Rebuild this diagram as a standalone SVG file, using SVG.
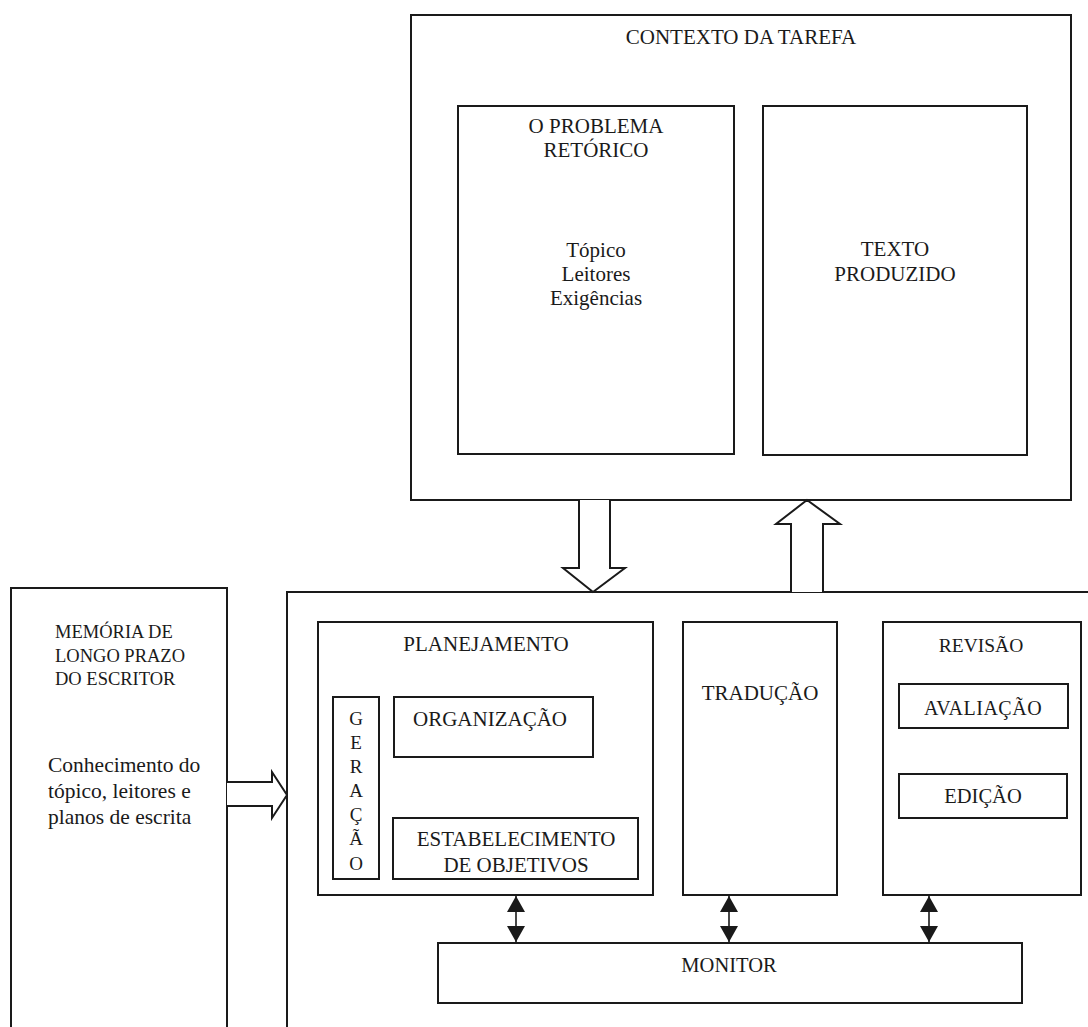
<svg xmlns="http://www.w3.org/2000/svg" width="1088" height="1027" viewBox="0 0 1088 1027">
  <style>
    .box { fill: none; stroke: #1a1a1a; stroke-width: 2; }
    .t { font-family: "Liberation Serif", "Times New Roman", serif; fill: #1a1a1a; text-anchor: middle; }
    .tl { font-family: "Liberation Serif", "Times New Roman", serif; fill: #1a1a1a; text-anchor: start; }
    .big { fill: #fff; stroke: #1a1a1a; stroke-width: 2; stroke-linejoin: miter; }
    .dbl { stroke: #1a1a1a; stroke-width: 1.6; fill: none; }
  </style>
  <defs>
    <marker id="ah" viewBox="0 0 16 18" refX="16" refY="9" markerWidth="16" markerHeight="18" markerUnits="userSpaceOnUse" orient="auto-start-reverse">
      <path d="M0,0 L16,9 L0,18 Z" fill="#1a1a1a"/>
    </marker>
  </defs>
  <rect width="1088" height="1027" fill="#fff"/>

  <g id="contexto-tarefa">
    <rect class="box" x="411" y="15" width="660" height="485"/>
    <text class="t" x="741" y="44" font-size="21">CONTEXTO DA TAREFA</text>
  </g>
  <g id="problema-retorico">
    <rect class="box" x="458" y="106" width="276" height="348"/>
    <text class="t" x="596" y="133" font-size="21">O PROBLEMA</text>
    <text class="t" x="596" y="157" font-size="21">RETÓRICO</text>
    <text class="t" x="596" y="257" font-size="21">Tópico</text>
    <text class="t" x="596" y="281" font-size="21">Leitores</text>
    <text class="t" x="596" y="305" font-size="21">Exigências</text>
  </g>
  <g id="texto-produzido">
    <rect class="box" x="763" y="106" width="264" height="349"/>
    <text class="t" x="895" y="256" font-size="21">TEXTO</text>
    <text class="t" x="895" y="281" font-size="21">PRODUZIDO</text>
  </g>

  <g id="processos">
    <rect class="box" x="287" y="592" width="830" height="460"/>
  </g>

  <g id="memoria">
    <rect class="box" x="11" y="588" width="216" height="460"/>
    <text class="tl" x="55" y="638" font-size="18.5">MEMÓRIA DE</text>
    <text class="tl" x="55" y="662" font-size="18.5">LONGO PRAZO</text>
    <text class="tl" x="55" y="685" font-size="18.5">DO ESCRITOR</text>
    <text class="tl" x="48" y="772" font-size="21.5">Conhecimento do</text>
    <text class="tl" x="48" y="798" font-size="21.5">tópico, leitores e</text>
    <text class="tl" x="48" y="824" font-size="21.5">planos de escrita</text>
  </g>

  <g id="planejamento">
    <rect class="box" x="318" y="622" width="335" height="273"/>
    <text class="t" x="486" y="651" font-size="21">PLANEJAMENTO</text>
  </g>
  <g id="geracao">
    <rect class="box" x="333" y="697" width="46" height="182"/>
    <text class="t" x="356" y="725" font-size="19">G</text>
    <text class="t" x="356" y="749" font-size="19">E</text>
    <text class="t" x="356" y="773" font-size="19">R</text>
    <text class="t" x="356" y="797" font-size="19">A</text>
    <text class="t" x="356" y="821" font-size="19">Ç</text>
    <text class="t" x="356" y="845" font-size="19">Ã</text>
    <text class="t" x="356" y="870" font-size="19">O</text>
  </g>
  <g id="organizacao">
    <rect class="box" x="394" y="697" width="199" height="60"/>
    <text class="t" x="490" y="726" font-size="21">ORGANIZAÇÃO</text>
  </g>
  <g id="estabelecimento">
    <rect class="box" x="393" y="818" width="245" height="61"/>
    <text class="t" x="516" y="846" font-size="21">ESTABELECIMENTO</text>
    <text class="t" x="516" y="872" font-size="21">DE OBJETIVOS</text>
  </g>

  <g id="traducao">
    <rect class="box" x="683" y="622" width="154" height="273"/>
    <text class="t" x="760" y="700" font-size="21">TRADUÇÃO</text>
  </g>

  <g id="revisao">
    <rect class="box" x="883" y="622" width="198" height="273"/>
    <text class="t" x="981" y="652" font-size="19.5">REVISÃO</text>
  </g>
  <g id="avaliacao">
    <rect class="box" x="899" y="684" width="169" height="44"/>
    <text class="t" x="983" y="715" font-size="20" letter-spacing="0.5">AVALIAÇÃO</text>
  </g>
  <g id="edicao">
    <rect class="box" x="899" y="774" width="168" height="44"/>
    <text class="t" x="983" y="803" font-size="20.5">EDIÇÃO</text>
  </g>

  <g id="monitor">
    <rect class="box" x="438" y="943" width="584" height="60"/>
    <text class="t" x="729" y="972" font-size="20.5">MONITOR</text>
  </g>

  <g id="connectors">
    <path class="big" d="M579,500 L579,568 L563,568 L593,592 L625,568 L610,568 L610,500"/>
    <path class="big" d="M791,592 L791,524 L776,524 L807,500 L840,524 L823,524 L823,592"/>
    <path class="big" d="M227,782 L272,782 L272,772 L287,795 L272,818 L272,806 L227,806"/>
    <line class="dbl" x1="516" y1="896" x2="516" y2="942" marker-start="url(#ah)" marker-end="url(#ah)"/>
    <line class="dbl" x1="729" y1="896" x2="729" y2="942" marker-start="url(#ah)" marker-end="url(#ah)"/>
    <line class="dbl" x1="929" y1="896" x2="929" y2="942" marker-start="url(#ah)" marker-end="url(#ah)"/>
  </g>
</svg>
